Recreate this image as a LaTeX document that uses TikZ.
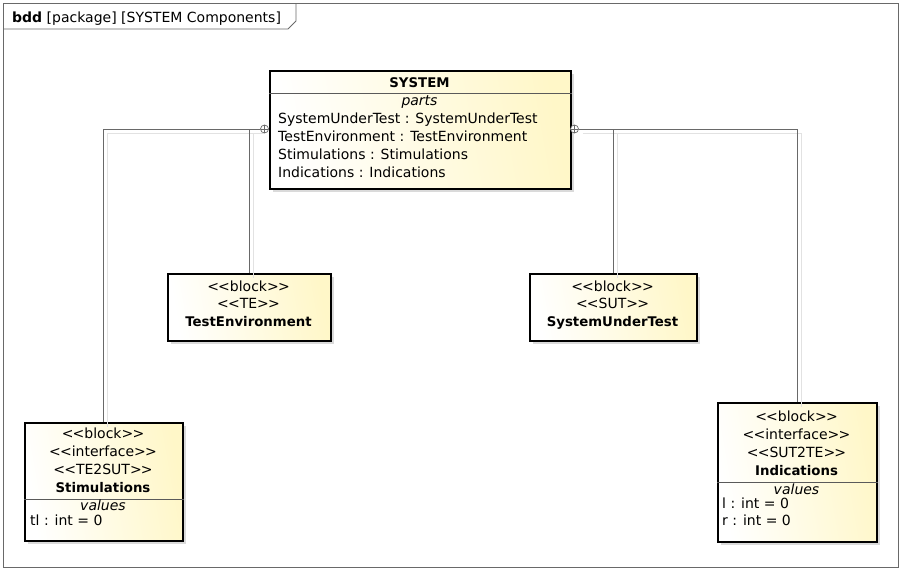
\documentclass[tikz,border=0pt]{standalone}
\usepackage{fontspec}
\setmainfont{DejaVu Sans}
\usetikzlibrary{shadows}

\definecolor{blockyellow}{RGB}{255,247,200}
\definecolor{framegray}{RGB}{105,105,105}
\definecolor{shadowgray}{RGB}{218,218,218}
\definecolor{lineshadow}{RGB}{226,226,226}
\definecolor{sepgray}{RGB}{90,90,90}

% stereotype in guillemet-like brackets, and a block name
\newcommand\stereo[1]{<\kern-0.8pt<#1>\kern-0.8pt>}
\newcommand\bname[1]{{\fontsize{13.3}{16}\selectfont\bfseries #1}}

\tikzset{
  blockbox/.style={draw=black, line width=1.6pt, left color=white, right color=blockyellow,
    shading angle=100, inner sep=0pt, anchor=north west,
    drop shadow={shadow xshift=3.5pt, shadow yshift=-3.5pt, fill=shadowgray, opacity=1}},
  txt/.style={font=\fontsize{14}{16}\selectfont, anchor=base, inner sep=0pt},
  txtl/.style={txt, anchor=base west},
  conn/.style={draw=framegray, line width=0.9pt},
  connshadow/.style={draw=lineshadow, line width=0.9pt, transform canvas={xshift=4pt, yshift=-4.5pt}},
  sepline/.style={draw=sepgray, line width=0.8pt},
  ownball/.style={circle, draw=framegray, fill=white, line width=0.7pt, minimum size=8pt, inner sep=0pt,
    path picture={\draw[framegray, line width=0.6pt]
      (path picture bounding box.north) -- (path picture bounding box.south)
      (path picture bounding box.west) -- (path picture bounding box.east);}},
}

\begin{document}
\begin{tikzpicture}[x=1pt, y=-1pt]
\useasboundingbox (0,0) rectangle (901,570);

% diagram frame and its name tab
\draw[framegray, line width=0.8pt] (3,3) rectangle (898,567);
\draw[framegray, line width=0.8pt] (3,29) -- (288,29) -- (296,21) -- (296,3);
\node[txtl] (frametitle) at (12,22) {\textbf{bdd} [package] [SYSTEM Components]};

% blocks
\node[blockbox, minimum width=301pt, minimum height=118pt] (sys) at (269,70) {};
\node[blockbox, minimum width=163pt, minimum height=67pt] (te) at (167,273) {};
\node[blockbox, minimum width=167pt, minimum height=67pt] (sut) at (529,273) {};
\node[blockbox, minimum width=158pt, minimum height=118pt] (stim) at (24,422) {};
\node[blockbox, minimum width=159pt, minimum height=139pt] (ind) at (717,402) {};

% compartment separators
\draw[sepline] (sys.west |- 0,93) -- (sys.east |- 0,93);
\draw[sepline] (stim.west |- 0,499) -- (stim.east |- 0,499);
\draw[sepline] (ind.west |- 0,482) -- (ind.east |- 0,482);

% owned-end markers on the whole block
\node[ownball] (ballL) at (264.5,129) {};
\node[ownball] (ballR) at (574.5,129) {};

% composition connector shadows
\draw[connshadow] (ballL.west) -| (stim.north);
\draw[connshadow] (ballL.west) -| (te.north);
\draw[connshadow] (ballR.east) -| (sut.north);
\draw[connshadow] (ballR.east) -| (ind.north);

% composition connectors
\draw[conn] (ballL.west) -| (stim.north);
\draw[conn] (ballL.west) -| (te.north);
\draw[conn] (ballR.east) -| (sut.north);
\draw[conn] (ballR.east) -| (ind.north);

% SYSTEM
\node[txt] (sysname) at (419.5,87) {\bname{SYSTEM}};
\node[txt] (sysparts) at (419.5,105.5) {\textit{parts}};
\node[txtl] (sysp1) at (278,123) {SystemUnderTest : SystemUnderTest};
\node[txtl] (sysp2) at (278,141) {TestEnvironment : TestEnvironment};
\node[txtl] (sysp3) at (278,159) {Stimulations : Stimulations};
\node[txtl] (sysp4) at (278,177) {Indications : Indications};

% TestEnvironment
\node[txt] (te1) at (248.5,291) {\stereo{block}};
\node[txt] (te2) at (248.5,308.5) {\stereo{TE}};
\node[txt] (te3) at (248.5,326) {\bname{TestEnvironment}};

% SystemUnderTest
\node[txt] (sut1) at (612.5,291) {\stereo{block}};
\node[txt] (sut2) at (612.5,308.5) {\stereo{SUT}};
\node[txt] (sut3) at (612.5,326) {\bname{SystemUnderTest}};

% Stimulations
\node[txt] (stim1) at (103,438.5) {\stereo{block}};
\node[txt] (stim2) at (103,456.5) {\stereo{interface}};
\node[txt] (stim3) at (103,474.5) {\stereo{TE2SUT}};
\node[txt] (stim4) at (103,492.5) {\bname{Stimulations}};
\node[txt] (stimval) at (103,510) {\textit{values}};
\node[txtl] (stimv1) at (30,525) {tl : int = 0};

% Indications
\node[txt] (ind1) at (796.5,421.5) {\stereo{block}};
\node[txt] (ind2) at (796.5,439.5) {\stereo{interface}};
\node[txt] (ind3) at (796.5,457.5) {\stereo{SUT2TE}};
\node[txt] (ind4) at (796.5,475) {\bname{Indications}};
\node[txt] (indval) at (796.5,494) {\textit{values}};
\node[txtl] (indv1) at (722,508.5) {l : int = 0};
\node[txtl] (indv2) at (722,525.5) {r : int = 0};
\end{tikzpicture}
\end{document}
